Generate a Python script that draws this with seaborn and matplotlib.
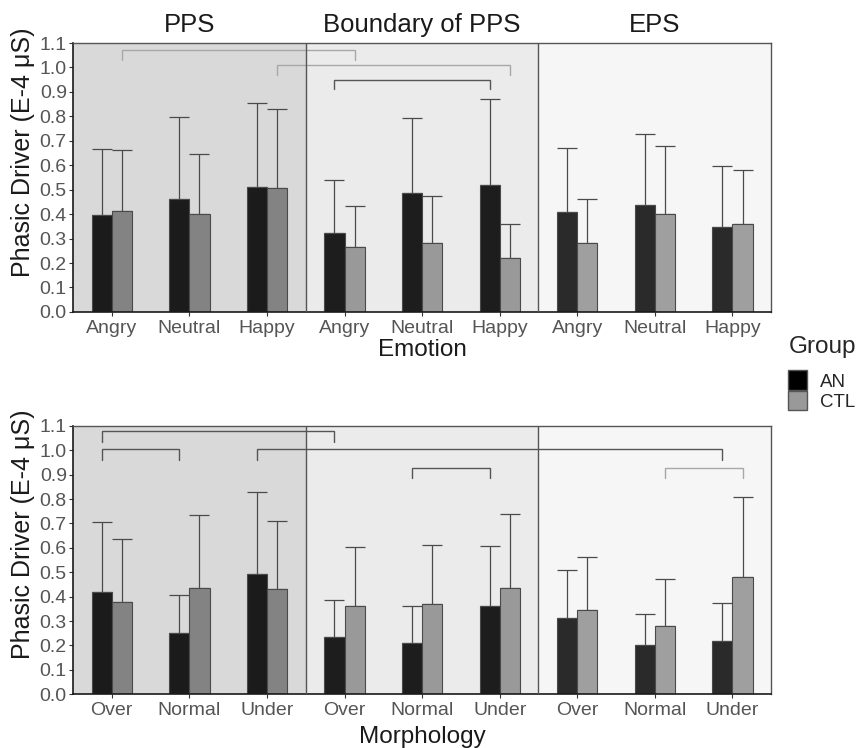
import matplotlib
matplotlib.use("Agg")
import matplotlib.pyplot as plt
import seaborn as sns
import pandas as pd
import numpy as np
from matplotlib.patches import Patch

# ---------------- data ----------------
spaces = ["PPS", "Boundary of PPS", "EPS"]
emotions = ["Angry", "Neutral", "Happy"]
morphs = ["Over", "Normal", "Under"]
groups = ["AN", "CTL"]

emo_an_mean = [0.396, 0.460, 0.512, 0.324, 0.488, 0.519, 0.409, 0.436, 0.348]
emo_an_sd = [0.269, 0.338, 0.342, 0.216, 0.307, 0.353, 0.261, 0.292, 0.249]
emo_ctl_mean = [0.414, 0.400, 0.506, 0.265, 0.283, 0.220, 0.283, 0.402, 0.358]
emo_ctl_sd = [0.249, 0.248, 0.325, 0.170, 0.191, 0.139, 0.180, 0.277, 0.223]

mor_an_mean = [0.420, 0.249, 0.493, 0.235, 0.210, 0.361, 0.313, 0.201, 0.217]
mor_an_sd = [0.285, 0.158, 0.335, 0.150, 0.151, 0.247, 0.198, 0.128, 0.157]
mor_ctl_mean = [0.379, 0.437, 0.430, 0.363, 0.368, 0.437, 0.344, 0.280, 0.482]
mor_ctl_sd = [0.256, 0.297, 0.279, 0.241, 0.244, 0.301, 0.219, 0.193, 0.327]

# brackets: (group_a, idx_a, group_b, idx_b, y_top, y_leg, shade)
emo_brackets = [("CTL", 0, "CTL", 3, 1.073, 1.032, "light"),
                ("CTL", 2, "CTL", 5, 1.011, 0.970, "light"),
                ("AN", 3, "AN", 5, 0.950, 0.911, "dark")]
mor_brackets = [("AN", 0, "AN", 3, 1.078, 1.034, "dark"),
                ("AN", 0, "AN", 1, 1.004, 0.962, "dark"),
                ("AN", 2, "AN", 8, 1.004, 0.962, "dark"),
                ("AN", 4, "AN", 5, 0.929, 0.888, "dark"),
                ("CTL", 7, "CTL", 8, 0.929, 0.888, "light")]

yticks = [round(0.1 * i, 1) for i in range(12)]

# styling
panel_bg = ["#d9d9d9", "#ebebeb", "#f6f6f6"]
an_cols = ["#1b1b1b", "#1d1d1d", "#2a2a2a"]
ctl_cols = ["#838383", "#999999", "#9f9f9f"]
shade_col = {"light": "#a8a8a8", "dark": "#555555"}

sns.set_theme(style="white")
plt.rcParams["font.family"] = ["Liberation Sans", "DejaVu Sans"]

fig = plt.figure(figsize=(8.62, 7.48), dpi=100)
ax1 = fig.add_axes([0.0847, 0.583, 0.810, 0.3595])
ax2 = fig.add_axes([0.0847, 0.072, 0.810, 0.3585])


def build(cats, an_m, an_s, ctl_m, ctl_s):
    rows = []
    for i in range(9):
        key = f"{spaces[i // 3]}|{cats[i % 3]}"
        rows.append(dict(key=key, group="AN", mean=an_m[i], sd=an_s[i]))
        rows.append(dict(key=key, group="CTL", mean=ctl_m[i], sd=ctl_s[i]))
    order = [f"{s}|{c}" for s in spaces for c in cats]
    return pd.DataFrame(rows), order


def draw(ax, cats, an_m, an_s, ctl_m, ctl_s, brackets, xlabel, titles,
         xlabelpad, ylab_y):
    df, order = build(cats, an_m, an_s, ctl_m, ctl_s)
    for p in range(3):
        ax.axvspan(p * 3 - 0.5, p * 3 + 2.5, color=panel_bg[p], zorder=0, lw=0)
    sns.barplot(data=df, x="key", y="mean", hue="group", order=order,
                hue_order=groups, width=0.52, errorbar=None, ax=ax,
                legend=False, zorder=2)
    bar_conts = list(ax.containers)
    centers = {}
    for gi, cont in enumerate(bar_conts):
        g = groups[gi]
        sub = df[df.group == g].set_index("key").loc[order]
        xs = []
        for i, bar in enumerate(cont):
            cols = an_cols if g == "AN" else ctl_cols
            bar.set_facecolor(cols[i // 3])
            bar.set_edgecolor("#4a4a4a")
            bar.set_linewidth(0.8)
            xs.append(bar.get_x() + bar.get_width() / 2)
        xs = np.array(xs)
        centers[g] = xs
        bw = cont[0].get_width()
        ax.errorbar(xs, sub["mean"].values,
                    yerr=[np.zeros(9), sub["sd"].values],
                    fmt="none", ecolor="#4a4a4a", elinewidth=0.9,
                    capsize=bw * 77.6 / 2 * 0.72, capthick=0.9, zorder=1.5)
    for ga, ia, gb, ib, yt, yl, sh in brackets:
        xa, xb = centers[ga][ia], centers[gb][ib]
        ax.plot([xa, xa, xb, xb], [yl, yt, yt, yl], color=shade_col[sh],
                lw=1.0, zorder=3, solid_joinstyle="miter")
    for b in (2.5, 5.5):
        ax.axvline(b, color="#555555", lw=1.0, zorder=4)
    ax.set_xlim(-0.5, 8.5)
    ax.set_ylim(0, 1.1)
    ax.set_yticks(yticks)
    ax.set_yticklabels([f"{v:.1f}" for v in yticks])
    ax.set_xticks(range(9))
    ax.set_xticklabels(cats * 3)
    ax.tick_params(axis="both", labelsize=14, labelcolor="#555555",
                   color="#333333", length=3, width=0.8, bottom=True, left=True,
                   pad=1.5)
    ax.tick_params(axis="x", pad=3)
    ax.set_xlabel(xlabel, fontsize=17.5, color="#1a1a1a", labelpad=xlabelpad)
    ax.set_ylabel("Phasic Driver (E-4 μS)", fontsize=18, color="#1a1a1a")
    ax.yaxis.set_label_coords(-0.055, ylab_y)
    for side in ("left", "bottom"):
        ax.spines[side].set_color("#1a1a1a")
        ax.spines[side].set_linewidth(1.2)
    for side in ("top", "right"):
        ax.spines[side].set_color("#555555")
        ax.spines[side].set_linewidth(1.0)
    if titles:
        for p, s in enumerate(spaces):
            ax.text(p * 3 + 1, 1.125, s, ha="center", va="bottom",
                    fontsize=18.5, color="#1a1a1a",
                    transform=ax.transData)


draw(ax1, emotions, emo_an_mean, emo_an_sd, emo_ctl_mean, emo_ctl_sd,
     emo_brackets, "Emotion", True, 1.5, 0.595)
draw(ax2, morphs, mor_an_mean, mor_an_sd, mor_ctl_mean, mor_ctl_sd,
     mor_brackets, "Morphology", False, 5, 0.595)

handles = [Patch(facecolor="#000000", edgecolor="#555555", label="AN"),
           Patch(facecolor="#999999", edgecolor="#555555", label="CTL")]
leg = fig.legend(handles=handles, title="Group", loc="upper left",
                 bbox_to_anchor=(0.906, 0.561), frameon=False, fontsize=13.5,
                 title_fontsize=17.5, handlelength=1.0, handleheight=1.25,
                 handletextpad=0.7, labelspacing=0.0, borderaxespad=0)
leg._legend_box.align = "left"
leg._legend_box.sep = 9

fig.savefig("out.png", dpi=100)
